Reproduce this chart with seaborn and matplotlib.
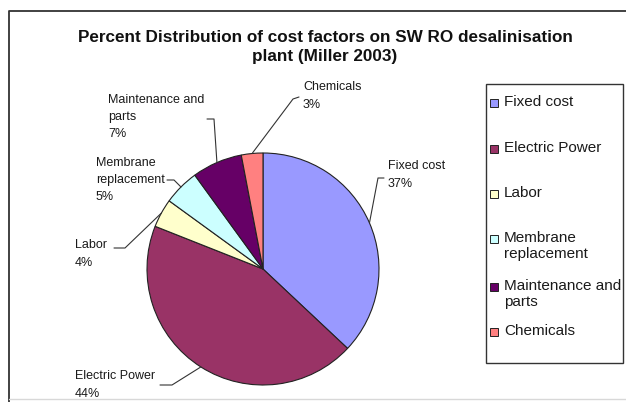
import numpy as np
import matplotlib
matplotlib.use("Agg")
import matplotlib.pyplot as plt
import seaborn as sns
from matplotlib.patches import Rectangle

# Cost shares of an SWRO desalination plant (Miller 2003)
categories = ["Fixed cost", "Electric Power", "Labor",
              "Membrane replacement", "Maintenance and parts", "Chemicals"]
shares = [37, 44, 4, 5, 7, 3]
slice_labels = ["Fixed cost", "Electric Power", "Labor",
                "Membrane\nreplacement", "Maintenance and\nparts", "Chemicals"]
legend_labels = ["Fixed cost", "Electric Power", "Labor",
                 "Membrane\nreplacement", "Maintenance and\nparts", "Chemicals"]
colors = ["#9999FF", "#993366", "#FFFFCC", "#CCFFFF", "#660066", "#FF8080"]
title = "Percent Distribution of cost factors on SW RO desalinisation\nplant (Miller 2003)"

sns.set_style("white")
plt.rcParams["font.family"] = ["Liberation Sans", "DejaVu Sans"]

W, H = 626, 405
fig = plt.figure(figsize=(W / 100, H / 100), dpi=100)
ax = fig.add_axes([0, 0, 1, 1])


def Y(y):
    """Convert a top-down pixel row into the axes' upward coordinate."""
    return H - y


cx, cy, r = 263, Y(269), 116
wedges, _ = ax.pie(shares, colors=colors, startangle=90, counterclock=False,
                   center=(cx, cy), radius=r,
                   wedgeprops=dict(edgecolor="#222222", linewidth=0.8))
ax.set_xlim(0, W)
ax.set_ylim(0, H)
ax.set_aspect("auto")
ax.axis("off")

# chart area frame
ax.plot([9, 9, W + 2], [Y(402), Y(11), Y(11)], color="#333333", lw=1.3,
        solid_capstyle="butt")
ax.plot([9, W], [Y(399), Y(399)], color="#d8d8d8", lw=1.0)

ax.text(325, Y(47), title, ha="center", va="center", fontsize=12.3,
        fontweight="bold", linespacing=1.25, color="#111111")

# data labels with leader lines: (elbow points, text x, text block centre y)
leaders = [
    ([(378, 178), (384, 178)], 388, 175),
    ([(172, 385), (160, 385)], 75, 385),
    ([(125, 248), (114, 248)], 75, 254),
    ([(174, 180), (167, 180)], 96, 180),
    ([(214, 119), (207, 119)], 108, 117),
    ([(293, 99), (299, 97)], 303, 96),
]
for w, lab, val, (pts, tx, ty) in zip(wedges, slice_labels, shares, leaders):
    mid = np.deg2rad((w.theta1 + w.theta2) / 2)
    ax_pt = (cx + r * np.cos(mid), cy + r * np.sin(mid))
    xs = [ax_pt[0]] + [p[0] for p in pts]
    ys = [ax_pt[1]] + [Y(p[1]) for p in pts]
    ax.plot(xs, ys, color="#333333", lw=0.8)
    ax.text(tx, Y(ty), f"{lab}\n{val}%", ha="left", va="center",
            fontsize=9, linespacing=1.6, color="#1a1a1a")

# legend box
ax.add_patch(Rectangle((486, Y(363)), 623 - 486, 363 - 84, facecolor="white",
                       edgecolor="#333333", lw=1.0))
legend_y = [103, 149, 194, 239, 287, 332]
for lab, col, ly in zip(legend_labels, colors, legend_y):
    ax.add_patch(Rectangle((490, Y(ly) - 4), 8, 8, facecolor=col,
                           edgecolor="#222222", lw=0.7))
    ax.text(504, Y(ly) + 8, lab, ha="left", va="top", fontsize=11,
            linespacing=1.15, color="#1a1a1a")

fig.savefig("out.png", dpi=100)
